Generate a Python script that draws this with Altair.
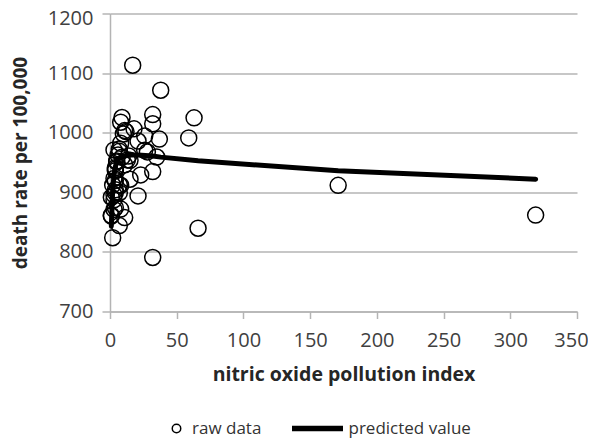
import altair as alt
import pandas as pd

# nitric oxide pollution index (raw data, x)
nox = [15, 10, 6, 8, 38, 32, 32, 4, 12, 7, 8, 63, 26, 21, 9, 1, 4, 8, 35, 4,
       1, 3, 3, 3, 5, 7, 4, 7, 319, 37, 18, 1, 23, 11, 14, 3, 17, 26, 32, 59,
       21, 4, 11, 9, 4, 15, 66, 171, 32, 7, 4, 5, 7, 2, 28, 2, 11, 3, 8, 13]
# death rate per 100,000 (raw data, y)
mort = [921.9, 997.9, 962.4, 982.3, 1071.3, 1030.4, 934.7, 899.5, 1001.9, 912.3,
        1017.6, 1024.9, 970.5, 986.0, 958.8, 860.1, 936.2, 871.8, 959.2, 941.2,
        891.7, 871.3, 971.1, 887.5, 952.5, 968.7, 919.7, 844.1, 861.8, 989.3,
        1006.5, 861.4, 929.2, 857.6, 961.0, 923.2, 1113.2, 994.6, 1015.0, 991.3,
        894.0, 938.5, 946.2, 1025.5, 874.3, 953.6, 839.7, 911.7, 790.7, 899.3,
        904.2, 950.7, 972.5, 912.2, 967.8, 823.8, 1003.5, 895.7, 911.8, 954.4]

# predicted value curve
pred_nox = [1, 2, 3, 4, 5, 7, 10, 15, 21, 32, 38, 66, 171, 319]
pred_mort = [843, 903, 929, 943, 951, 957, 960.5, 962.5, 962.5, 961, 959, 953, 936, 922]

raw_name = "raw data"
pred_name = "predicted value"
x_ticks = [0, 50, 100, 150, 200, 250, 300, 350]
y_ticks = [700, 800, 900, 1000, 1100, 1200]

raw = pd.DataFrame({"nox": nox, "mort": mort, "series": raw_name})
pred = pd.DataFrame({"nox": pred_nox, "mort": pred_mort, "series": pred_name})

FONT = "Open Sans"
GRAY = "#b4b4b4"
LEGEND_COMMON = dict(
    title=None, orient="none", direction="horizontal", clipHeight=20,
    labelFont=FONT, labelFontSize=17, labelColor="#333333",
    symbolStrokeColor="black",
)

x_enc = alt.X(
    "nox:Q",
    scale=alt.Scale(domain=[0, 350], nice=False, zero=False),
    axis=alt.Axis(
        values=x_ticks, title="nitric oxide pollution index", grid=False,
        tickSize=7, labelPadding=12, titlePadding=15, labelFlush=False,
        labelOverlap=False, titleFontSize=19.5,
        labelOffset=alt.ExprRef(expr="datum.value === 350 ? -6 : 0"),
    ),
)
y_enc = alt.Y(
    "mort:Q",
    scale=alt.Scale(domain=[700, 1200], nice=False, zero=False),
    axis=alt.Axis(
        values=y_ticks, format="d", title="death rate per 100,000", grid=True,
        tickSize=8, labelPadding=9, titlePadding=17, labelFlush=False,
        labelOverlap=False, titleFontSize=19,
        labelOffset=alt.ExprRef(expr="datum.value === 1200 ? 5 : 0"),
    ),
)

points = alt.Chart(raw).mark_point(
    filled=False, size=256, strokeWidth=1.5, color="black", opacity=1
).encode(
    x=x_enc,
    y=y_enc,
    shape=alt.Shape(
        "series:N",
        scale=alt.Scale(domain=[raw_name], range=["circle"]),
        legend=alt.Legend(
            legendX=58, legendY=405, labelOffset=7,
            symbolSize=72, symbolStrokeWidth=1.5,
            **LEGEND_COMMON,
        ),
    ),
)

line = alt.Chart(pred).mark_line(
    strokeWidth=5, strokeCap="round"
).encode(
    x="nox:Q",
    y="mort:Q",
    color=alt.Color(
        "series:N",
        scale=alt.Scale(domain=[pred_name], range=["black"]),
        legend=alt.Legend(
            legendX=179, legendY=405, labelOffset=2.5,
            symbolType="stroke", symbolSize=2600, symbolStrokeWidth=5.5,
            **LEGEND_COMMON,
        ),
    ),
)

chart = alt.layer(points, line).properties(
    width=467, height=298,
    autosize=alt.AutoSizeParams(type="none"),
    padding={"left": 102, "top": 5.5, "right": 11, "bottom": 126.5},
).configure_view(stroke=None).configure_axis(
    labelFont=FONT, labelFontSize=20, labelColor="#404040",
    titleFont=FONT, titleFontWeight="bold", titleColor="#262626",
    domainColor=GRAY, domainWidth=1.5, tickColor=GRAY, tickWidth=1.5,
    gridColor=GRAY, gridWidth=1.5,
)

chart.save("out.html", embed_options={"renderer": "svg", "actions": False})
